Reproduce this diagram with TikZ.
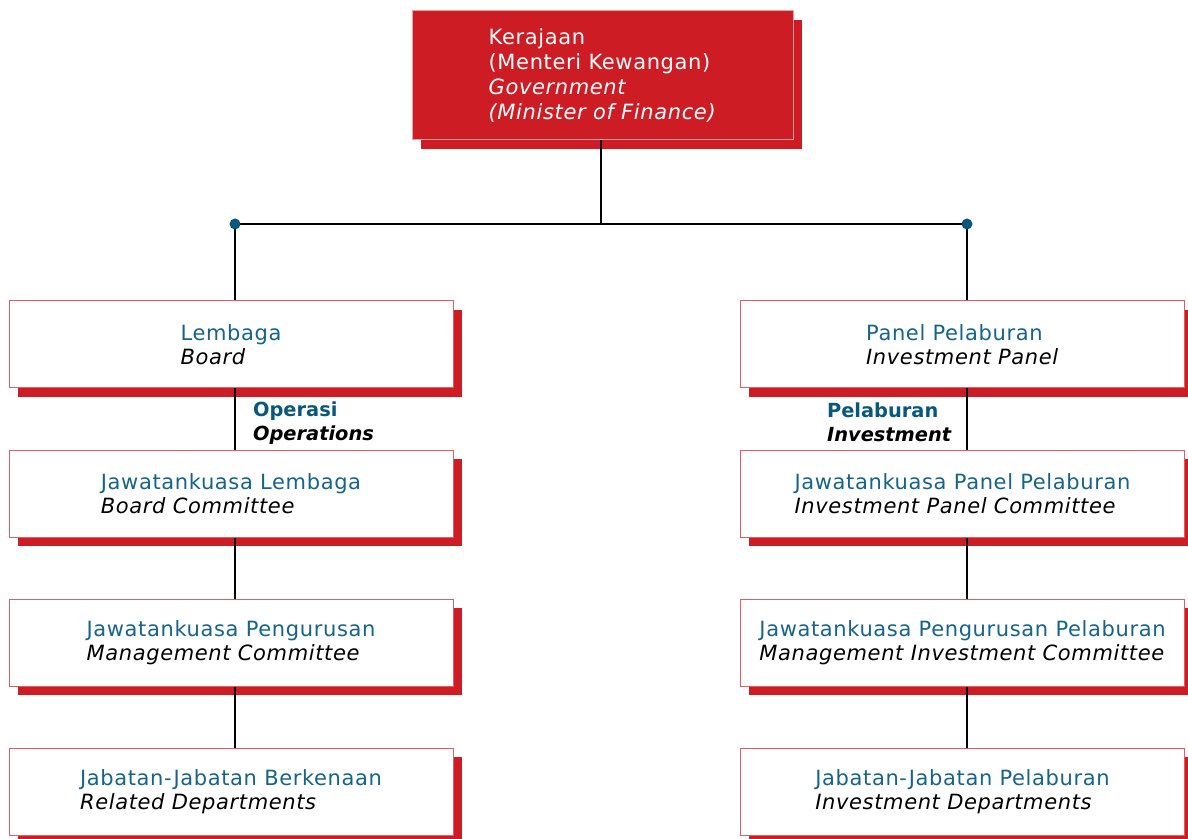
\documentclass[tikz,border=0pt]{standalone}
\usepackage{fontspec}
\setmainfont[LetterSpace=3]{DejaVu Sans}
\newfontfamily\armfont{DejaVu Sans}
\usetikzlibrary{shadows}

\definecolor{kwapred}{RGB}{205,28,36}
\definecolor{edgepink}{RGB}{226,92,100}
\definecolor{edgelight}{RGB}{236,160,164}
\definecolor{malayblue}{RGB}{22,100,138}
\definecolor{dotblue}{RGB}{8,88,124}

\newcommand{\bilingual}[2]{%
  % #1 = Malay name, #2 = English name
  \textcolor{malayblue}{#1}\\\textit{#2}}

\tikzset{
	orgbox/.style={draw=edgepink, line width=0.5pt, fill=white,
		minimum width=222pt, minimum height=43.5pt, align=left,
		font=\fontsize{10.5}{12}\selectfont,
		drop shadow={shadow xshift=4.3pt, shadow yshift=-4.3pt,
			fill=kwapred, opacity=1}},
	govbox/.style={orgbox, draw=edgelight, fill=kwapred, text=white,
		minimum width=190.5pt, minimum height=64.5pt,
		font=\fontsize{10.5}{12.5}\selectfont},
	armlabel/.style={anchor=west, align=left,
		font=\armfont\fontsize{9.7}{12}\selectfont\bfseries},
	link/.style={black, line width=0.75pt},
	busdot/.style={circle, fill=dotblue, inner sep=0pt, minimum size=5.5pt}
}

\begin{document}
\begin{tikzpicture}[x=0.5pt, y=-0.5pt]
		\useasboundingbox (0, 0) rectangle (1188, 839);
		\node[govbox] (gov) at (602.5, 75.5)
			{Kerajaan\\(Menteri Kewangan)\\\textit{Government}\\\textit{(Minister of Finance)}};

		\node[orgbox] (board) at (231, 344.5) {\bilingual{Lembaga}{Board}};
		\node[orgbox] (boardcom) at (231, 493.5) {\bilingual{Jawatankuasa Lembaga}{Board Committee}};
		\node[orgbox] (mgmtcom) at (231, 642.5) {\bilingual{Jawatankuasa Pengurusan}{Management Committee}};
		\node[orgbox] (reldept) at (231, 791.5) {\bilingual{Jabatan-Jabatan Berkenaan}{Related Departments}};

		\node[orgbox] (panel) at (962.5, 344.5) {\bilingual{Panel Pelaburan}{Investment Panel}};
		\node[orgbox] (panelcom) at (962.5, 493.5) {\bilingual{Jawatankuasa Panel Pelaburan}{Investment Panel Committee}};
		\node[orgbox] (invcom) at (962.5, 642.5) {\bilingual{Jawatankuasa Pengurusan Pelaburan}{Management Investment Committee}};
		\node[orgbox] (invdept) at (962.5, 791.5) {\bilingual{Jabatan-Jabatan Pelaburan}{Investment Departments}};

		\coordinate (bus) at (601, 224);
		\coordinate (opsx) at (235, 224);
		\coordinate (invx) at (967, 224);

		\draw[link] (gov.south -| bus) -- (bus);
		\draw[link] (opsx) -- (invx);
		\draw[link] (opsx) -- (opsx |- board.north);
		\draw[link] (invx) -- (invx |- panel.north);
		\draw[link] (board.south -| opsx) -- (boardcom.north -| opsx);
		\draw[link] (boardcom.south -| opsx) -- (mgmtcom.north -| opsx);
		\draw[link] (mgmtcom.south -| opsx) -- (reldept.north -| opsx);
		\draw[link] (panel.south -| invx) -- (panelcom.north -| invx);
		\draw[link] (panelcom.south -| invx) -- (invcom.north -| invx);
		\draw[link] (invcom.south -| invx) -- (invdept.north -| invx);
		\node[busdot] (opsdot) at (opsx) {};
		\node[busdot] (invdot) at (invx) {};

		\node[armlabel] (opslabel) at (246, 423) {\textcolor{dotblue}{Operasi}\\\textit{Operations}};
		\node[armlabel] (invlabel) at (820, 422) {\textcolor{dotblue}{Pelaburan}\\\textit{Investment}};
	\end{tikzpicture}
\end{document}
